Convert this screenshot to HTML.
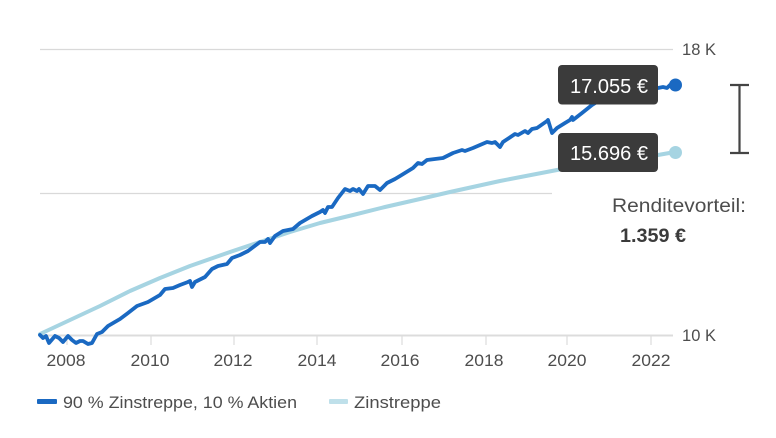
<!DOCTYPE html>
<html><head><meta charset="utf-8"><style>
html,body{margin:0;padding:0;background:#fff;}
svg{display:block;}
text{font-family:"Liberation Sans",sans-serif;}
</style></head><body>
<svg width="776" height="438" viewBox="0 0 776 438" xmlns="http://www.w3.org/2000/svg">
<!-- grid -->
<line x1="40" y1="49.5" x2="673" y2="49.5" stroke="#d9d9d9" stroke-width="1.2"/>
<line x1="40" y1="193.5" x2="552" y2="193.5" stroke="#d9d9d9" stroke-width="1.2"/>
<line x1="40" y1="335.5" x2="673" y2="335.5" stroke="#dcdcdc" stroke-width="2"/>
<!-- ticks -->
<g stroke="#dcdcdc" stroke-width="1.2">
<line x1="67" y1="336" x2="67" y2="345"/>
<line x1="151" y1="336" x2="151" y2="345"/>
<line x1="234" y1="336" x2="234" y2="345"/>
<line x1="317" y1="336" x2="317" y2="345"/>
<line x1="402" y1="336" x2="402" y2="345"/>
<line x1="486" y1="336" x2="486" y2="345"/>
<line x1="567" y1="336" x2="567" y2="345"/>
<line x1="651" y1="336" x2="651" y2="345"/>
</g>
<g fill="#4d4d4d" font-size="17" text-anchor="middle">
<text x="66" y="366" textLength="39" lengthAdjust="spacingAndGlyphs">2008</text>
<text x="150" y="366" textLength="39" lengthAdjust="spacingAndGlyphs">2010</text>
<text x="233" y="366" textLength="39" lengthAdjust="spacingAndGlyphs">2012</text>
<text x="317" y="366" textLength="39" lengthAdjust="spacingAndGlyphs">2014</text>
<text x="400" y="366" textLength="39" lengthAdjust="spacingAndGlyphs">2016</text>
<text x="484" y="366" textLength="39" lengthAdjust="spacingAndGlyphs">2018</text>
<text x="567" y="366" textLength="39" lengthAdjust="spacingAndGlyphs">2020</text>
<text x="651" y="366" textLength="39" lengthAdjust="spacingAndGlyphs">2022</text>
</g>
<g fill="#4d4d4d" font-size="17">
<text x="682" y="55" textLength="34" lengthAdjust="spacingAndGlyphs">18 K</text>
<text x="682" y="341" textLength="34" lengthAdjust="spacingAndGlyphs">10 K</text>
</g>
<!-- light series -->
<polyline fill="none" stroke="#a6d4e2" stroke-width="4" stroke-linejoin="round" stroke-linecap="round"
points="40,334 70,320 100,306 130,291 160,278 190,266 230,252 260,242 290,232 320,223 353,215 385,207 420,199 450,192 500,181 557,170 610,161 658,155 675,152"/>
<!-- blue series -->
<polyline fill="none" stroke="#1a69c2" stroke-width="3.8" stroke-linejoin="round" stroke-linecap="round"
points="40,335 43,338 46,336 49,343 55,336 59,338 63,342 68,336 72,340 76,343 80,341 83,341 88,344 92,343 97,334 102,332 108,326 120,319 128,313 137,306 148,302 160,295 165,289 173,288 180,285 188,282 190,281 192,287 195,282 205,277 212,269 218,266 227,264 232,258 240,255 248,251 260,242 265,242 268,239 270,243 275,236 283,231 293,229 300,223 312,216 320,212 323,210 325,213 328,207 332,207 338,198 345,189 350,191 353,189 357,191 359,189 363,194 368,186 375,186 380,190 387,183 395,179 400,176 413,168 418,163 422,164 427,160 443,158 453,153 462,150 465,151 473,148 487,142 492,143 495,142 500,147 503,142 515,134 518,135 525,131 528,133 532,129 537,128 547,121 548,120 552,133 557,128 565,123 570,120 572,117 573,120 582,113 592,105 600,100 630,92 658,88 663,87 667,88 670,85 675,85"/>
<!-- end dots -->
<circle cx="675.5" cy="85" r="6.5" fill="#1a69c2"/>
<circle cx="675.5" cy="152.5" r="6.5" fill="#a6d4e2"/>
<!-- value labels -->
<rect x="558" y="65" width="100" height="39.5" rx="4" fill="#3b3b3b"/>
<text x="609" y="93" fill="#fff" font-size="20" text-anchor="middle" textLength="78" lengthAdjust="spacingAndGlyphs">17.055 €</text>
<rect x="558" y="133" width="100" height="39" rx="4" fill="#3b3b3b"/>
<text x="609" y="160" fill="#fff" font-size="20" text-anchor="middle" textLength="78" lengthAdjust="spacingAndGlyphs">15.696 €</text>
<!-- bracket -->
<g stroke="#444" stroke-width="2.2">
<line x1="739.5" y1="85" x2="739.5" y2="153"/>
<line x1="730" y1="85" x2="749" y2="85"/>
<line x1="730" y1="153" x2="749" y2="153"/>
</g>
<text x="612" y="212" fill="#4d4d4d" font-size="19" textLength="134" lengthAdjust="spacingAndGlyphs">Renditevorteil:</text>
<text x="620" y="242" fill="#3b3b3b" font-size="19" font-weight="bold" textLength="66" lengthAdjust="spacingAndGlyphs">1.359 €</text>
<!-- legend -->
<rect x="37" y="399" width="20" height="5" rx="1" fill="#1a69c2"/>
<text x="63" y="408" fill="#4d4d4d" font-size="17" textLength="234" lengthAdjust="spacingAndGlyphs">90 % Zinstreppe, 10 % Aktien</text>
<rect x="329" y="399" width="19" height="5" rx="1" fill="#bfe0ea"/>
<text x="354" y="408" fill="#4d4d4d" font-size="17" textLength="87" lengthAdjust="spacingAndGlyphs">Zinstreppe</text>
</svg>
</body></html>
